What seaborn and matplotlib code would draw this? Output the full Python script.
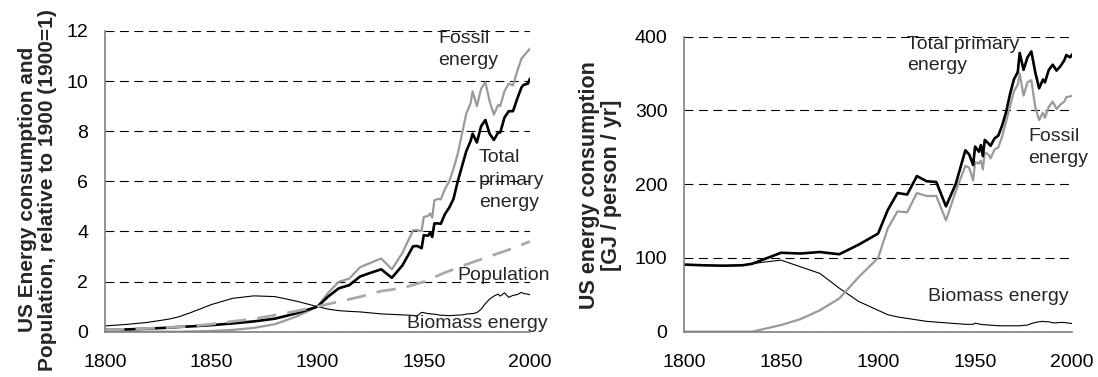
import matplotlib
matplotlib.use("Agg")
import matplotlib.pyplot as plt
import seaborn as sns
import pandas as pd

# ---------------- data ----------------
years = [1800, 1810, 1820, 1830, 1835, 1840, 1850, 1860, 1870, 1880,
         1890, 1900, 1905, 1910, 1915, 1920, 1925, 1930, 1935, 1940,
         1945, 1947, 1949, 1950, 1952, 1953, 1954, 1955, 1957, 1958,
         1960, 1962, 1964, 1966, 1968, 1970, 1972, 1973, 1975, 1977,
         1979, 1981, 1983, 1985, 1986, 1988, 1990, 1992, 1994, 1996,
         1997, 1999, 2000]

# Left panel: relative to 1900 (1900 = 1)
rel_total = [0.07, 0.09, 0.12, 0.16, 0.19, 0.21, 0.26, 0.33, 0.41, 0.52,
             0.73, 1.0, 1.4, 1.73, 1.86, 2.2, 2.35, 2.49, 2.15, 2.65,
             3.41, 3.42, 3.33, 3.85, 3.83, 3.95, 3.78, 4.32, 4.32, 4.3,
             4.7, 4.95, 5.3, 6.0, 6.6, 7.2, 7.6, 7.9, 7.55, 8.2,
             8.45, 7.9, 7.65, 7.95, 7.95, 8.55, 8.8, 8.8, 9.3, 9.75,
             9.85, 9.9, 10.1]
rel_fossil = [0, 0, 0, 0, 0, 0.01, 0.03, 0.07, 0.15, 0.3,
              0.6, 1.0, 1.55, 1.99, 2.12, 2.57, 2.75, 2.92, 2.49, 3.15,
              4.05, 4.05, 4.02, 4.58, 4.62, 4.72, 4.55, 5.25, 5.3, 5.28,
              5.7, 6.0, 6.5, 7.1, 7.9, 8.7, 9.1, 9.59, 9.0, 9.7,
              9.95, 9.2, 8.66, 9.05, 9.0, 9.6, 9.9, 9.83, 10.4, 10.9,
              11.0, 11.2, 11.3]
rel_biomass = [0.23, 0.29, 0.37, 0.5, 0.6, 0.75, 1.08, 1.33, 1.43, 1.40,
               1.22, 1.0, 0.9, 0.84, 0.81, 0.79, 0.75, 0.71, 0.69, 0.67,
               0.65, 0.64, 0.77, 0.76, 0.72, 0.72, 0.7, 0.7, 0.67, 0.66,
               0.65, 0.64, 0.65, 0.66, 0.67, 0.7, 0.72, 0.72, 0.76, 0.9,
               1.12, 1.3, 1.42, 1.5, 1.42, 1.55, 1.37, 1.45, 1.48, 1.57,
               1.52, 1.5, 1.47]
pop_years = [1800, 1810, 1820, 1830, 1840, 1850, 1860, 1870, 1880, 1890,
             1900, 1910, 1920, 1930, 1940, 1950, 1960, 1970, 1980, 1990, 2000]
rel_population = [0.07, 0.095, 0.13, 0.17, 0.22, 0.3, 0.41, 0.51, 0.66, 0.82,
                  1.0, 1.2, 1.39, 1.62, 1.74, 1.99, 2.36, 2.68, 2.98, 3.27, 3.6]

# Right panel: GJ / person / yr
pc_total = [91, 90, 89.5, 90, 92, 97, 107, 106, 108, 105,
            118, 133, 165, 188, 186, 211, 204, 203, 170, 200,
            246, 240, 226, 251, 244, 253, 238, 260, 255, 252,
            262, 266, 280, 298, 322, 342, 352, 378, 355, 372,
            380, 352, 330, 342, 338, 355, 362, 354, 360, 368,
            375, 372, 376]
pc_fossil = [0, 0, 0, 0, 0, 3, 9, 17, 29, 45,
             74, 100, 140, 163, 162, 188, 184, 184, 151, 190,
             225, 222, 205, 230, 228, 232, 220, 243, 240, 235,
             247, 250, 265, 285, 305, 326, 335, 350, 320, 338,
             341, 305, 287, 297, 290, 305, 312, 302, 308, 312,
             318, 319, 320]
pc_biomass = [91, 90, 89.5, 90, 92, 94, 97, 88, 79, 59,
              41, 29, 23, 20, 18, 16, 14, 13, 12, 11,
              10, 10, 10, 11.5, 10.5, 10, 9.5, 9.5, 9, 8.8,
              8.5, 8, 8, 8, 8, 8, 8, 8, 8.5, 9,
              11, 12.5, 13.5, 14, 13.5, 13.5, 12, 12, 12.5, 12.5,
              12, 11.5, 11]

x_ticks = [1800, 1850, 1900, 1950, 2000]
left_yticks = [0, 2, 4, 6, 8, 10, 12]
right_yticks = [0, 100, 200, 300, 400]

left_ylabel = "US Energy consumption and\nPopulation, relative to 1900 (1900=1)"
right_ylabel = "US energy consumption\n[GJ / person / yr]"

# ---------------- style ----------------
sns.set_style("white")
plt.rcParams['font.family'] = ['Liberation Sans', 'DejaVu Sans']

fig = plt.figure(figsize=(10.98, 3.77), dpi=100)
axL = fig.add_axes([0.0956, 0.1202, 0.3871, 0.7976])
axR = fig.add_axes([0.623, 0.1202, 0.3534, 0.7825])

BLACK = "#000000"
GREY = "#9a9a9a"
SPINE = "#808080"

dfL = pd.DataFrame({"year": years, "total": rel_total, "fossil": rel_fossil,
                    "biomass": rel_biomass})
dfP = pd.DataFrame({"year": pop_years, "pop": rel_population})
dfR = pd.DataFrame({"year": years, "total": pc_total, "fossil": pc_fossil,
                    "biomass": pc_biomass})

# Left panel lines
sns.lineplot(data=dfL, x="year", y="biomass", ax=axL, color=BLACK, lw=0.8)
sns.lineplot(data=dfL, x="year", y="fossil", ax=axL, color=GREY, lw=1.6)
sns.lineplot(data=dfL, x="year", y="total", ax=axL, color=BLACK, lw=1.9)
sns.lineplot(data=dfP, x="year", y="pop", ax=axL, color="#aaaaaa", lw=2.0,
             linestyle=(0, (7, 4)))

# Right panel lines
sns.lineplot(data=dfR, x="year", y="biomass", ax=axR, color=BLACK, lw=0.8)
sns.lineplot(data=dfR, x="year", y="fossil", ax=axR, color=GREY, lw=1.6)
sns.lineplot(data=dfR, x="year", y="total", ax=axR, color=BLACK, lw=1.9)

for ax, yt in ((axL, left_yticks), (axR, right_yticks)):
    ax.set_xlim(1800, 2000)
    ax.set_ylim(yt[0], yt[-1])
    ax.set_xticks(x_ticks)
    ax.set_yticks(yt)
    ax.set_xlabel("")
    ax.set_ylabel("")
    for s in ("top", "right"):
        ax.spines[s].set_visible(False)
    for s in ("left", "bottom"):
        ax.spines[s].set_color(SPINE)
        ax.spines[s].set_linewidth(1.2)
        ax.spines[s].set_zorder(5)
    ax.tick_params(axis="both", direction="out", length=5, width=1.0,
                   color=SPINE, labelsize=14, labelcolor="black")
    ax.tick_params(axis="x", pad=11)
    ax.tick_params(axis="y", pad=7)
    ax.set_axisbelow(True)
    ax.yaxis.grid(True, color="black", lw=0.8, linestyle=(0, (8, 5)))
    ax.xaxis.grid(False)

# Annotations
fs = 14
axL.text(1956.7, 12.05, "Fossil\nenergy", fontsize=fs, ha="left", va="top",
         linespacing=1.4, clip_on=False)
axL.text(1976, 7.3, "Total\nprimary\nenergy", fontsize=fs, ha="left", va="top",
         linespacing=1.45, clip_on=False)
axL.text(1966, 2.26, "Population", fontsize=fs, ha="left", va="center",
         clip_on=False)
axL.text(1942, 0.33, "Biomass energy", fontsize=fs, ha="left", va="center",
         clip_on=False)

axR.text(1914.8, 401, "Total primary\nenergy", fontsize=fs, ha="left", va="top",
         linespacing=1.35, clip_on=False)
axR.text(1977.5, 276, "Fossil\nenergy", fontsize=fs, ha="left", va="top",
         linespacing=1.4, clip_on=False)
axR.text(1925.8, 47.5, "Biomass energy", fontsize=fs, ha="left", va="center",
         clip_on=False)

# Axis labels (bold, rotated)
fig.text(0.034, 0.497, left_ylabel, rotation=90, ha="center", va="center",
         multialignment="center", fontsize=15, fontweight="bold",
         linespacing=1.05)
fig.text(0.547, 0.509, right_ylabel, rotation=90, ha="center", va="center",
         multialignment="center", fontsize=15.5, fontweight="bold",
         linespacing=1.05)

fig.savefig("out.png", dpi=100)
